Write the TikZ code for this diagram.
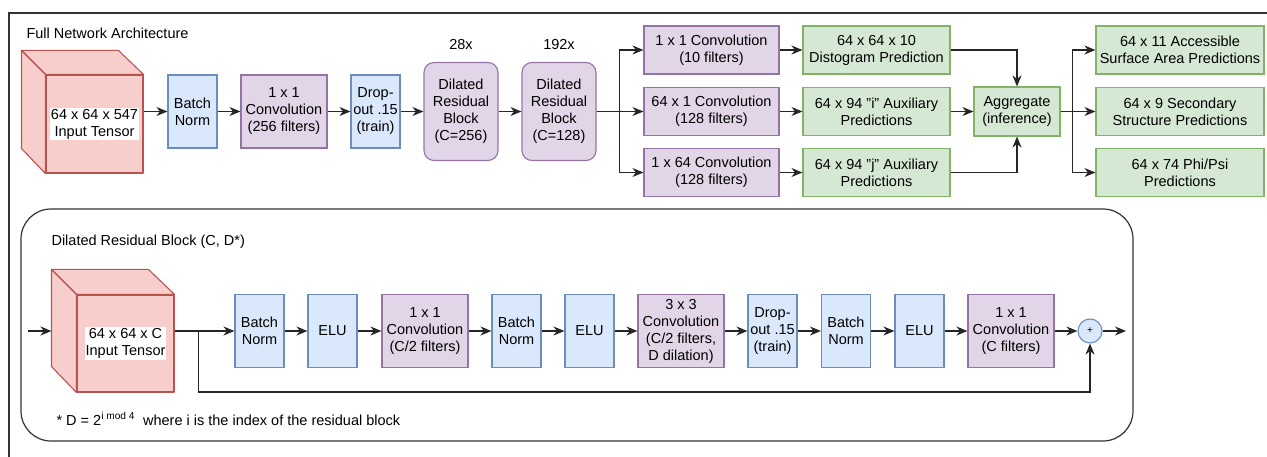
\documentclass[tikz,border=0pt]{standalone}
\usepackage{fontspec}
\setmainfont{Liberation Sans}
\usetikzlibrary{arrows.meta}
\definecolor{bluefill}{HTML}{DAE8FC}
\definecolor{bluedraw}{HTML}{6C8EBF}
\definecolor{purplefill}{HTML}{E1D5E7}
\definecolor{purpledraw}{HTML}{9673A6}
\definecolor{greenfill}{HTML}{D5E8D4}
\definecolor{greendraw}{HTML}{82B366}
\definecolor{redfill}{HTML}{F8CECC}
\definecolor{reddraw}{HTML}{B85450}
\definecolor{framecol}{HTML}{333333}
\tikzset{
  blk/.style={draw, line width=1.1pt, align=center, inner sep=0pt, minimum height=73pt},
  normbox/.style={blk, draw=bluedraw, fill=bluefill, minimum width=49pt},
  convbox/.style={blk, draw=purpledraw, fill=purplefill, minimum width=86pt},
  resblock/.style={blk, draw=purpledraw, fill=purplefill, minimum width=74pt, minimum height=98pt, rounded corners=10pt},
  headbox/.style={blk, draw=purpledraw, fill=purplefill, minimum width=135pt, minimum height=48pt},
  predbox/.style={blk, draw=greendraw, fill=greenfill, minimum width=147pt, minimum height=48pt},
  outbox/.style={blk, draw=greendraw, fill=greenfill, minimum width=168pt, minimum height=48pt},
  face/.style={draw=reddraw, fill=redfill, line width=1.1pt, line join=round},
  tag/.style={fill=white, align=center, inner sep=1pt},
  arr/.style={-{Stealth[length=11pt,width=9pt,inset=3.5pt]}, line width=1.2pt, draw=black!85},
  wire/.style={line width=1.2pt}
}
\begin{document}
\begin{tikzpicture}[x=1pt, y=-1pt, every node/.style={font=\fontsize{14.5}{17}\selectfont}]
\useasboundingbox (0,0) rectangle (1267,457);
% outer frame
\draw[framecol, line width=1.2pt] (1267,13) -- (9,13) -- (9,457);
\node[anchor=west] (title) at (23,33) {Full Network Architecture};

% input tensor
\node[face, minimum width=97pt, minimum height=98pt] (inp) at (94.5,124) {};
\draw[face] (inp.north west) -- ++(-24,-24) -- ++(97,0) -- (inp.north east) -- cycle;
\draw[face] (inp.north west) -- ++(-24,-24) -- ++(0,98) -- (inp.south west) -- cycle;
\node[tag] (inptxt) at (inp.center) {64 x 64 x 547\\Input Tensor};

% trunk
\node[normbox] (bn) at (192.5,111.5) {Batch\\Norm};
\node[convbox] (conv) at (284,111.5) {1 x 1\\Convolution\\(256 filters)};
\node[normbox] (drop) at (375.5,111.5) {Drop-\\out .15\\(train)};
\node[resblock] (res1) at (461,111.5) {Dilated\\Residual\\Block\\(C=256)};
\node[resblock] (res2) at (559,111.5) {Dilated\\Residual\\Block\\(C=128)};
\node (rep1) at (res1 |- 0,45) {28x};
\node (rep2) at (res2 |- 0,45) {192x};

% heads
\node[headbox] (dhead) at (711.5,50) {1 x 1 Convolution\\(10 filters)};
\node[headbox] (ihead) at (711.5,111.5) {64 x 1 Convolution\\(128 filters)};
\node[headbox] (jhead) at (711.5,172.5) {1 x 64 Convolution\\(128 filters)};
\node[predbox] (dpred) at (876.5,50) {64 x 64 x 10\\Distogram Prediction};
\node[predbox] (ipred) at (876.5,111.5) {64 x 94 "i" Auxiliary\\Predictions};
\node[predbox] (jpred) at (876.5,172.5) {64 x 94 "j" Auxiliary\\Predictions};
\node[blk, draw=greendraw, fill=greenfill, minimum width=86pt, minimum height=49pt] (agg) at (1017,111.5) {Aggregate\\(inference)};
\node[outbox] (asa) at (1180,50) {64 x 11 Accessible\\Surface Area Predictions};
\node[outbox] (ss) at (1180,111.5) {64 x 9 Secondary\\Structure Predictions};
\node[outbox] (phi) at (1180,172.5) {64 x 74 Phi/Psi\\Predictions};

\begin{scope}[every edge/.style={arr}]
  \path (inp.east |- bn.west) edge (bn.west);
  \path (bn) edge (conv);
  \path (conv) edge (drop);
  \path (drop) edge (res1);
  \path (res1) edge (res2);
  \path (res2) edge (ihead);
  \path (dhead) edge (dpred);
  \path (ihead) edge (ipred);
  \path (jhead) edge (jpred);
  \path (ipred) edge (agg);
  \path (agg) edge (ss);
\end{scope}
\draw[arr] (res2.east) -- ++(23,0) |- (dhead.west);
\draw[arr] (res2.east) -- ++(23,0) |- (jhead.west);
\draw[arr] (dpred.east) -| (agg.north);
\draw[arr] (jpred.east) -| (agg.south);
\draw[arr] (agg.east) -- ++(12,0) |- (asa.west);
\draw[arr] (agg.east) -- ++(12,0) |- (phi.west);

% dilated residual block
\draw[framecol, line width=1.2pt, rounded corners=30pt] (21,209) rectangle (1133,441);
\node[anchor=west] (subtitle) at (48,242) {Dilated Residual Block (C, D*)};
\node[face, minimum width=97pt, minimum height=97pt] (blkin) at (125.5,343.5) {};
\draw[face] (blkin.north west) -- ++(-25,-25) -- ++(97,0) -- (blkin.north east) -- cycle;
\draw[face] (blkin.north west) -- ++(-25,-25) -- ++(0,97) -- (blkin.south west) -- cycle;
\node[tag] (blkintxt) at (blkin.center) {64 x 64 x C\\Input Tensor};
\coordinate (entry) at (28,331);

\node[normbox] (bna) at (259.5,331) {Batch\\Norm};
\node[normbox] (elua) at (332.5,331) {ELU};
\node[convbox] (cva) at (425,331) {1 x 1\\Convolution\\(C/2 filters)};
\node[normbox] (bnb) at (516.5,331) {Batch\\Norm};
\node[normbox] (elub) at (589.5,331) {ELU};
\node[convbox] (cvb) at (681,331) {3 x 3\\Convolution\\(C/2 filters,\\D dilation)};
\node[normbox] (dob) at (772.5,331) {Drop-\\out .15\\(train)};
\node[normbox] (bnc) at (846,331) {Batch\\Norm};
\node[normbox] (eluc) at (919.5,331) {ELU};
\node[convbox] (cvc) at (1011,331) {1 x 1\\Convolution\\(C filters)};
\node[circle, draw=bluedraw, fill=bluefill, line width=1.1pt, minimum size=24pt, inner sep=0pt, font=\fontsize{10}{12}\selectfont] (plus) at (1090,331) {+};
\coordinate (exit) at (1126,331);

\begin{scope}[every edge/.style={arr}]
  \path (entry) edge ([xshift=-25pt]blkin.west |- entry);
  \path (blkin.east |- bna.west) edge (bna.west);
  \path (bna) edge (elua);
  \path (elua) edge (cva);
  \path (cva) edge (bnb);
  \path (bnb) edge (elub);
  \path (elub) edge (cvb);
  \path (cvb) edge (dob);
  \path (dob) edge (bnc);
  \path (bnc) edge (eluc);
  \path (eluc) edge (cvc);
  \path (cvc) edge (plus);
  \path (plus) edge (exit);
\end{scope}
\draw[arr] (blkin.east |- bna.west) ++(24,0) -- ++(0,61) -| (plus.south);

\node[anchor=west] (note) at (53,419) {* D = 2\textsuperscript{i mod 4}\ \ where i is the index of the residual block};
\end{tikzpicture}
\end{document}
